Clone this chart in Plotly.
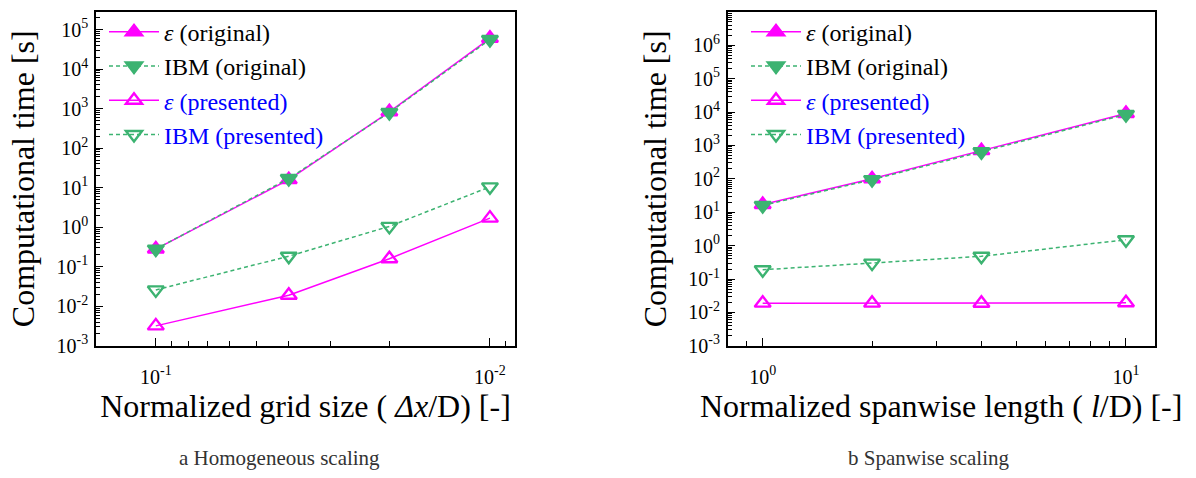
import plotly.graph_objects as go

# ---------------- data ----------------
grid_size = [0.1, 0.04, 0.02, 0.01]
eps_orig_a = [0.28, 16, 830, 60000]
ibm_orig_a = [0.28, 17, 800, 56000]
eps_pres_a = [0.0032, 0.019, 0.16, 1.7]
ibm_pres_a = [0.026, 0.185, 1.05, 10.5]

span_len = [1, 2, 4, 10]
eps_orig_b = [17, 100, 700, 9000]
ibm_orig_b = [16, 95, 650, 8500]
eps_pres_b = [0.019, 0.019, 0.0188, 0.0195]
ibm_pres_b = [0.19, 0.30, 0.48, 1.5]

names = ["<i>ε</i> (original)", "IBM (original)",
         '<span style="color:#0000FF"><i>ε</i> (presented)</span>',
         '<span style="color:#0000FF">IBM (presented)</span>']

xa_tickvals = [0.1, 0.01]
xa_ticktext = ["10<sup>-1</sup>", "10<sup>-2</sup>"]
xb_tickvals = [1, 10]
xb_ticktext = ["10<sup>0</sup>", "10<sup>1</sup>"]
ya_exps = list(range(-3, 6))
yb_exps = list(range(-3, 8))

MAG = "#FF00FF"
GRN = "#3CB371"
FONT = "Liberation Serif, Times New Roman, serif"

fig = go.Figure()

def add_set(x, ys, xa, ya, leg):
    styles = [
        dict(color=MAG, dash="solid", symbol="triangle-up"),
        dict(color=GRN, dash="4px,3px", symbol="triangle-down"),
        dict(color=MAG, dash="solid", symbol="triangle-up-open"),
        dict(color=GRN, dash="4px,3px", symbol="triangle-down-open"),
    ]
    for y, st, nm in zip(ys, styles, names):
        fig.add_trace(go.Scatter(
            x=x, y=y, name=nm, xaxis=xa, yaxis=ya, legend=leg,
            mode="lines+markers",
            line=dict(color=st["color"], dash=st["dash"], width=1.5),
            marker=dict(symbol=st["symbol"], size=14, color=st["color"],
                        line=dict(color=st["color"], width=2.4)),
        ))

add_set(grid_size, [eps_orig_a, ibm_orig_a, eps_pres_a, ibm_pres_a], "x", "y", "legend")
add_set(span_len, [eps_orig_b, ibm_orig_b, eps_pres_b, ibm_pres_b], "x2", "y2", "legend2")

def minor_vals(lo, hi):
    out = []
    for k in range(lo - 1, hi + 2):
        for m in range(2, 10):
            out.append(m * 10.0 ** k)
    return out

ax_common = dict(type="log", showline=True, linecolor="black", linewidth=1.6,
                 mirror=True, ticks="inside", tickcolor="black", showgrid=False,
                 zeroline=False, tickmode="array",
                 tickfont=dict(family=FONT, size=20, color="black"))

TITLE_FONT = dict(family=FONT, size=32, color="black")
W, H = 1196, 478
yd = [1 - 354 / H, 1 - 12 / H]

fig.update_layout(
    width=W, height=H, margin=dict(l=0, r=0, t=0, b=0),
    paper_bgcolor="white", plot_bgcolor="white",
    font=dict(family=FONT, color="black"),
    xaxis=dict(ax_common, domain=[96 / W, 515 / W], anchor="y",
               range=[-0.821, -2.075], tickvals=xa_tickvals, ticktext=xa_ticktext,
               ticklen=8, tickwidth=1.3, ticklabelstandoff=12,
               minor=dict(ticks="inside", ticklen=5, tickwidth=1, tickcolor="black",
                          tickmode="array", tickvals=minor_vals(-3, -1)),
               title=dict(text="Normalized grid size ( <i>Δx</i>/D) [-]",
                         font=TITLE_FONT, standoff=8)),
    yaxis=dict(ax_common, domain=yd, anchor="x", range=[-3, 5.45],
               tickvals=[10.0 ** e for e in ya_exps],
               ticktext=["10<sup>%d</sup>" % e for e in ya_exps],
               ticklen=7, tickwidth=1.3, ticklabelstandoff=2,
               minor=dict(ticks="inside", ticklen=4, tickwidth=1, tickcolor="black",
                          tickmode="array", tickvals=minor_vals(-3, 5)),
               title=dict(text="Computational time [s]", font=TITLE_FONT, standoff=12)),
    xaxis2=dict(ax_common, domain=[727.7 / W, 1154.6 / W], anchor="y2",
                range=[-0.0963, 1.0788], tickvals=xb_tickvals, ticktext=xb_ticktext,
                ticklen=8, tickwidth=1.3, ticklabelstandoff=12,
                minor=dict(ticks="inside", ticklen=5, tickwidth=1, tickcolor="black",
                           tickmode="array", tickvals=minor_vals(0, 1)),
                title=dict(text="Normalized spanwise length ( <i>l</i>/D) [-]",
                           font=TITLE_FONT, standoff=8)),
    yaxis2=dict(ax_common, domain=yd, anchor="x2", range=[-3, 7.004],
                tickvals=[10.0 ** e for e in yb_exps],
                ticktext=["10<sup>%d</sup>" % e for e in yb_exps],
                ticklen=7, tickwidth=1.3, ticklabelstandoff=2,
                minor=dict(ticks="inside", ticklen=4, tickwidth=1, tickcolor="black",
                           tickmode="array", tickvals=minor_vals(-3, 7)),
                title=dict(text="Computational time [s]", font=TITLE_FONT, standoff=12)),
    legend=dict(x=104 / W, y=1 - 10 / H, xanchor="left", yanchor="top",
                bgcolor="rgba(0,0,0,0)", itemwidth=50, tracegroupgap=0,
                font=dict(family=FONT, size=24, color="black")),
    legend2=dict(x=746 / W, y=1 - 10 / H, xanchor="left", yanchor="top",
                 bgcolor="rgba(0,0,0,0)", itemwidth=50, tracegroupgap=0,
                 font=dict(family=FONT, size=24, color="black")),
    showlegend=True,
    annotations=[
        dict(text="a Homogeneous scaling", x=279 / W, y=1 - 469 / H, xref="paper",
             yref="paper", showarrow=False, xanchor="center", yanchor="middle",
             font=dict(family=FONT, size=21, color="#333333")),
        dict(text="b Spanwise scaling", x=928 / W, y=1 - 469 / H, xref="paper",
             yref="paper", showarrow=False, xanchor="center", yanchor="middle",
             font=dict(family=FONT, size=21, color="#333333")),
    ],
)

fig.write_html("out.html")
